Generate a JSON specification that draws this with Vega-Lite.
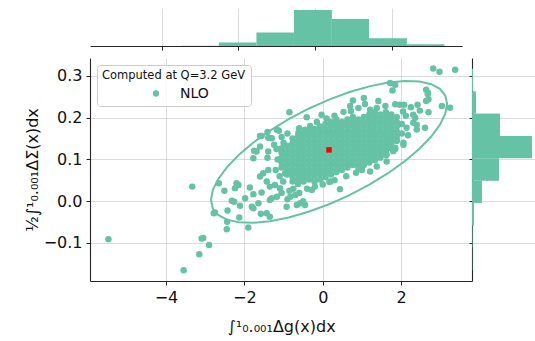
{
"$schema": "https://vega.github.io/schema/vega-lite/v6.json",
"autosize": {"type": "none"},
"padding": {"left": 90, "top": 8, "right": 445, "bottom": 333},
"config": {
 "font": "DejaVu Sans",
 "view": {"stroke": null},
 "axis": {"gridColor": "#b0b0b0", "gridOpacity": 0.45, "domainColor": "#262626", "tickColor": "#262626", "labelColor": "#111111", "titleColor": "#111111", "labelFontSize": 16, "titleFontSize": 16, "titleFontWeight": "normal", "tickSize": 4, "labelPadding": 4, "zindex": 1, "domainWidth": 1.1}
},
"datasets": {
 "pts": [
{"x":-1.05,"y":0.081},{"x":-1.05,"y":0.093},{"x":-1.05,"y":0.104},{"x":-1.05,"y":0.116},{"x":-1.05,"y":0.127},
{"x":-0.91,"y":0.064},{"x":-0.91,"y":0.075},{"x":-0.91,"y":0.087},{"x":-0.91,"y":0.098},{"x":-0.91,"y":0.110},{"x":-0.91,"y":0.121},{"x":-0.91,"y":0.133},
{"x":-0.77,"y":0.047},{"x":-0.77,"y":0.058},{"x":-0.77,"y":0.070},{"x":-0.77,"y":0.081},{"x":-0.77,"y":0.093},{"x":-0.77,"y":0.104},{"x":-0.77,"y":0.116},{"x":-0.77,"y":0.127},{"x":-0.77,"y":0.139},{"x":-0.77,"y":0.150},
{"x":-0.63,"y":0.041},{"x":-0.63,"y":0.052},{"x":-0.63,"y":0.064},{"x":-0.63,"y":0.075},{"x":-0.63,"y":0.087},{"x":-0.63,"y":0.098},{"x":-0.63,"y":0.110},{"x":-0.63,"y":0.121},{"x":-0.63,"y":0.133},{"x":-0.63,"y":0.144},{"x":-0.63,"y":0.156},
{"x":-0.49,"y":0.047},{"x":-0.49,"y":0.058},{"x":-0.49,"y":0.070},{"x":-0.49,"y":0.081},{"x":-0.49,"y":0.093},{"x":-0.49,"y":0.104},{"x":-0.49,"y":0.116},{"x":-0.49,"y":0.127},{"x":-0.49,"y":0.139},{"x":-0.49,"y":0.150},{"x":-0.49,"y":0.162},
{"x":-0.35,"y":0.052},{"x":-0.35,"y":0.064},{"x":-0.35,"y":0.075},{"x":-0.35,"y":0.087},{"x":-0.35,"y":0.098},{"x":-0.35,"y":0.110},{"x":-0.35,"y":0.121},{"x":-0.35,"y":0.133},{"x":-0.35,"y":0.144},{"x":-0.35,"y":0.156},{"x":-0.35,"y":0.167},
{"x":-0.21,"y":0.047},{"x":-0.21,"y":0.058},{"x":-0.21,"y":0.070},{"x":-0.21,"y":0.081},{"x":-0.21,"y":0.093},{"x":-0.21,"y":0.104},{"x":-0.21,"y":0.116},{"x":-0.21,"y":0.127},{"x":-0.21,"y":0.139},{"x":-0.21,"y":0.150},{"x":-0.21,"y":0.162},{"x":-0.21,"y":0.173},
{"x":-0.07,"y":0.052},{"x":-0.07,"y":0.064},{"x":-0.07,"y":0.075},{"x":-0.07,"y":0.087},{"x":-0.07,"y":0.098},{"x":-0.07,"y":0.110},{"x":-0.07,"y":0.121},{"x":-0.07,"y":0.133},{"x":-0.07,"y":0.144},{"x":-0.07,"y":0.156},{"x":-0.07,"y":0.167},{"x":-0.07,"y":0.179},
{"x":0.07,"y":0.058},{"x":0.07,"y":0.070},{"x":0.07,"y":0.081},{"x":0.07,"y":0.093},{"x":0.07,"y":0.104},{"x":0.07,"y":0.116},{"x":0.07,"y":0.127},{"x":0.07,"y":0.139},{"x":0.07,"y":0.150},{"x":0.07,"y":0.162},{"x":0.07,"y":0.173},{"x":0.07,"y":0.185},
{"x":0.21,"y":0.064},{"x":0.21,"y":0.075},{"x":0.21,"y":0.087},{"x":0.21,"y":0.098},{"x":0.21,"y":0.110},{"x":0.21,"y":0.121},{"x":0.21,"y":0.133},{"x":0.21,"y":0.144},{"x":0.21,"y":0.156},{"x":0.21,"y":0.167},{"x":0.21,"y":0.179},{"x":0.21,"y":0.190},
{"x":0.35,"y":0.070},{"x":0.35,"y":0.081},{"x":0.35,"y":0.093},{"x":0.35,"y":0.104},{"x":0.35,"y":0.116},{"x":0.35,"y":0.127},{"x":0.35,"y":0.139},{"x":0.35,"y":0.150},{"x":0.35,"y":0.162},{"x":0.35,"y":0.173},{"x":0.35,"y":0.185},{"x":0.35,"y":0.196},
{"x":0.49,"y":0.075},{"x":0.49,"y":0.087},{"x":0.49,"y":0.098},{"x":0.49,"y":0.110},{"x":0.49,"y":0.121},{"x":0.49,"y":0.133},{"x":0.49,"y":0.144},{"x":0.49,"y":0.156},{"x":0.49,"y":0.167},{"x":0.49,"y":0.179},{"x":0.49,"y":0.190},
{"x":0.63,"y":0.081},{"x":0.63,"y":0.093},{"x":0.63,"y":0.104},{"x":0.63,"y":0.116},{"x":0.63,"y":0.127},{"x":0.63,"y":0.139},{"x":0.63,"y":0.150},{"x":0.63,"y":0.162},{"x":0.63,"y":0.173},{"x":0.63,"y":0.185},{"x":0.63,"y":0.196},
{"x":0.77,"y":0.087},{"x":0.77,"y":0.098},{"x":0.77,"y":0.110},{"x":0.77,"y":0.121},{"x":0.77,"y":0.133},{"x":0.77,"y":0.144},{"x":0.77,"y":0.156},{"x":0.77,"y":0.167},{"x":0.77,"y":0.179},{"x":0.77,"y":0.190},{"x":0.77,"y":0.202},
{"x":0.91,"y":0.081},{"x":0.91,"y":0.093},{"x":0.91,"y":0.104},{"x":0.91,"y":0.116},{"x":0.91,"y":0.127},{"x":0.91,"y":0.139},{"x":0.91,"y":0.150},{"x":0.91,"y":0.162},{"x":0.91,"y":0.173},{"x":0.91,"y":0.185},{"x":0.91,"y":0.196},
{"x":1.05,"y":0.087},{"x":1.05,"y":0.098},{"x":1.05,"y":0.110},{"x":1.05,"y":0.121},{"x":1.05,"y":0.133},{"x":1.05,"y":0.144},{"x":1.05,"y":0.156},{"x":1.05,"y":0.167},{"x":1.05,"y":0.179},{"x":1.05,"y":0.190},{"x":1.05,"y":0.202},
{"x":1.19,"y":0.093},{"x":1.19,"y":0.104},{"x":1.19,"y":0.116},{"x":1.19,"y":0.127},{"x":1.19,"y":0.139},{"x":1.19,"y":0.150},{"x":1.19,"y":0.162},{"x":1.19,"y":0.173},{"x":1.19,"y":0.185},{"x":1.19,"y":0.196},{"x":1.19,"y":0.208},
{"x":1.33,"y":0.098},{"x":1.33,"y":0.110},{"x":1.33,"y":0.121},{"x":1.33,"y":0.133},{"x":1.33,"y":0.144},{"x":1.33,"y":0.156},{"x":1.33,"y":0.167},{"x":1.33,"y":0.179},{"x":1.33,"y":0.190},{"x":1.33,"y":0.202},{"x":1.33,"y":0.213},
{"x":1.47,"y":0.104},{"x":1.47,"y":0.116},{"x":1.47,"y":0.127},{"x":1.47,"y":0.139},{"x":1.47,"y":0.150},{"x":1.47,"y":0.162},{"x":1.47,"y":0.173},{"x":1.47,"y":0.185},{"x":1.47,"y":0.196},{"x":1.47,"y":0.208},
{"x":1.61,"y":0.110},{"x":1.61,"y":0.121},{"x":1.61,"y":0.133},{"x":1.61,"y":0.144},{"x":1.61,"y":0.156},{"x":1.61,"y":0.167},{"x":1.61,"y":0.179},{"x":1.61,"y":0.190},{"x":1.61,"y":0.202},{"x":1.61,"y":0.213},
{"x":1.75,"y":0.127},{"x":1.75,"y":0.139},{"x":1.75,"y":0.150},{"x":1.75,"y":0.162},{"x":1.75,"y":0.173},{"x":1.75,"y":0.185},{"x":1.75,"y":0.196},{"x":1.75,"y":0.208},
{"x":1.89,"y":0.144},{"x":1.89,"y":0.156},{"x":1.89,"y":0.167},{"x":1.89,"y":0.179},{"x":1.89,"y":0.190},{"x":1.89,"y":0.202},
{"x":2.02,"y":0.162},{"x":2.02,"y":0.185},
{"x":-1.15,"y":0.100},{"x":-1.20,"y":0.075},{"x":-1.18,"y":0.125},{"x":-1.10,"y":0.060},{"x":-1.00,"y":0.140},
{"x":-5.47,"y":-0.091},{"x":-3.33,"y":0.035},{"x":-3.09,"y":-0.089},{"x":-3.05,"y":-0.088},{"x":-2.90,"y":-0.105},{"x":-3.15,"y":-0.127},{"x":-3.55,"y":-0.165},{"x":-2.78,"y":-0.029},
{"x":-2.45,"y":-0.067},{"x":-1.90,"y":-0.063},{"x":-2.44,"y":-0.049},{"x":-2.75,"y":-0.027},{"x":-2.43,"y":-0.022},{"x":-2.13,"y":-0.039},{"x":-2.11,"y":-0.011},{"x":-2.32,"y":0.001},{"x":-2.26,"y":-0.001},
{"x":-2.51,"y":0.025},{"x":-2.65,"y":0.043},{"x":-2.20,"y":0.043},{"x":-1.98,"y":0.007},{"x":-1.86,"y":0.033},{"x":-1.77,"y":0.017},{"x":-1.81,"y":-0.013},{"x":-1.77,"y":-0.017},{"x":-1.58,"y":-0.030},{"x":-1.43,"y":-0.029},
{"x":-1.56,"y":0.021},{"x":-1.60,"y":0.059},{"x":-1.52,"y":0.067},{"x":-1.39,"y":0.075},{"x":-1.43,"y":0.047},{"x":-1.35,"y":0.035},{"x":-1.22,"y":0.039},{"x":-1.64,"y":-0.005},{"x":-1.35,"y":0.003},{"x":-1.17,"y":0.011},
{"x":-1.77,"y":0.103},{"x":-1.69,"y":0.119},{"x":-1.24,"y":0.135},{"x":-1.35,"y":-0.037},{"x":-0.92,"y":-0.013},{"x":-0.66,"y":-0.009},{"x":-0.58,"y":-0.005},{"x":-1.09,"y":0.031},{"x":-1.01,"y":0.047},{"x":-0.96,"y":0.067},
{"x":-2.24,"y":0.031},{"x":-2.15,"y":0.039},{"x":-1.56,"y":0.156},{"x":-1.30,"y":0.151},{"x":-1.12,"y":0.169},{"x":-1.60,"y":0.131},{"x":-1.39,"y":0.119},{"x":-1.60,"y":0.156},{"x":-1.41,"y":0.166},{"x":-1.39,"y":0.152},
{"x":-1.75,"y":0.121},{"x":-1.41,"y":0.104},{"x":-1.17,"y":0.171},{"x":-1.30,"y":0.007},{"x":-0.83,"y":0.011},
{"x":-1.05,"y":0.154},{"x":-0.85,"y":0.213},{"x":-0.62,"y":0.164},{"x":-0.45,"y":0.171},{"x":-0.32,"y":0.180},{"x":-0.58,"y":0.152},{"x":-0.24,"y":0.160},{"x":-0.41,"y":0.201},{"x":-0.03,"y":0.207},
{"x":0.53,"y":0.214},{"x":0.70,"y":0.228},{"x":0.72,"y":0.216},{"x":0.77,"y":0.241},{"x":0.91,"y":0.223},{"x":1.08,"y":0.233},{"x":1.05,"y":0.247},{"x":1.21,"y":0.219},{"x":1.38,"y":0.223},{"x":1.42,"y":0.240},
{"x":0.17,"y":0.046},{"x":0.44,"y":0.029},{"x":0.19,"y":0.047},{"x":-0.28,"y":0.027},{"x":-0.45,"y":-0.009},{"x":-0.50,"y":0.0},{"x":1.21,"y":0.071},{"x":1.38,"y":0.083},{"x":1.63,"y":0.095},{"x":1.85,"y":0.125},{"x":2.06,"y":0.135},
{"x":2.82,"y":0.318},{"x":2.98,"y":0.310},{"x":3.38,"y":0.315},{"x":1.72,"y":0.283},{"x":1.85,"y":0.279},{"x":1.78,"y":0.265},{"x":2.64,"y":0.267},{"x":2.68,"y":0.257},{"x":2.69,"y":0.259},{"x":2.64,"y":0.240},
{"x":2.42,"y":0.231},{"x":2.25,"y":0.225},{"x":2.08,"y":0.231},{"x":1.97,"y":0.231},{"x":2.48,"y":0.217},{"x":2.70,"y":0.213},{"x":3.04,"y":0.228},{"x":3.25,"y":0.224},{"x":2.31,"y":0.207},{"x":2.36,"y":0.200},
{"x":2.40,"y":0.172},{"x":2.61,"y":0.176},{"x":2.14,"y":0.176},{"x":2.31,"y":0.188},{"x":2.06,"y":0.140},{"x":1.85,"y":0.128},{"x":1.80,"y":0.120},{"x":1.63,"y":0.112},{"x":2.70,"y":0.244},{"x":2.40,"y":0.183},
{"x":1.89,"y":0.147},{"x":1.63,"y":0.127},{"x":2.12,"y":0.205},{"x":2.05,"y":0.215},{"x":2.18,"y":0.158},
{"x":-1.05,"y":0.020},{"x":-0.85,"y":0.025},{"x":-0.75,"y":0.030},{"x":-0.70,"y":0.015},{"x":-0.60,"y":0.020},{"x":-0.40,"y":0.030},{"x":-0.20,"y":0.035},{"x":0.0,"y":0.040},{"x":0.30,"y":0.050},{"x":0.60,"y":0.060},
{"x":0.85,"y":0.068},{"x":1.00,"y":0.075},{"x":-0.90,"y":0.005},
{"x":0.30,"y":0.205},{"x":0.10,"y":0.198},{"x":1.60,"y":0.228},{"x":1.85,"y":0.232},{"x":-0.15,"y":0.190},{"x":-0.60,"y":0.175},{"x":-0.90,"y":0.162}
 ],
 "ell": [
{"i":0,"x":3.174,"y":0.2331},{"i":1,"x":3.128,"y":0.2096},{"i":2,"x":2.992,"y":0.1833},{"i":3,"x":2.770,"y":0.1550},{"i":4,"x":2.469,"y":0.1257},{"i":5,"x":2.097,"y":0.0960},
{"i":6,"x":1.667,"y":0.0671},{"i":7,"x":1.191,"y":0.0397},{"i":8,"x":0.684,"y":0.0147},{"i":9,"x":0.161,"y":-0.0072},{"i":10,"x":-0.362,"y":-0.0252},{"i":11,"x":-0.869,"y":-0.0389},
{"i":12,"x":-1.345,"y":-0.0479},{"i":13,"x":-1.775,"y":-0.0518},{"i":14,"x":-2.147,"y":-0.0505},{"i":15,"x":-2.448,"y":-0.0441},{"i":16,"x":-2.670,"y":-0.0328},{"i":17,"x":-2.806,"y":-0.0169},
{"i":18,"x":-2.852,"y":0.0031},{"i":19,"x":-2.806,"y":0.0266},{"i":20,"x":-2.670,"y":0.0529},{"i":21,"x":-2.448,"y":0.0812},{"i":22,"x":-2.147,"y":0.1106},{"i":23,"x":-1.775,"y":0.1402},
{"i":24,"x":-1.345,"y":0.1691},{"i":25,"x":-0.869,"y":0.1965},{"i":26,"x":-0.362,"y":0.2215},{"i":27,"x":0.161,"y":0.2434},{"i":28,"x":0.684,"y":0.2614},{"i":29,"x":1.191,"y":0.2751},
{"i":30,"x":1.667,"y":0.2841},{"i":31,"x":2.097,"y":0.2880},{"i":32,"x":2.469,"y":0.2867},{"i":33,"x":2.770,"y":0.2803},{"i":34,"x":2.992,"y":0.2690},{"i":35,"x":3.128,"y":0.2531}
 ],
 "mean": [{"x":0.16,"y":0.123}],
 "hx": [
{"a":-5.45,"b":-4.47,"c":1},{"a":-4.47,"b":-3.49,"c":1},{"a":-3.49,"b":-2.51,"c":3},{"a":-2.51,"b":-1.53,"c":38},{"a":-1.53,"b":-0.55,"c":151},
{"a":-0.55,"b":0.44,"c":404},{"a":0.44,"b":1.41,"c":302},{"a":1.41,"b":2.40,"c":87},{"a":2.40,"b":3.38,"c":19}
 ],
 "hy": [
{"a":-0.165,"b":-0.111,"c":2},{"a":-0.111,"b":-0.058,"c":4},{"a":-0.058,"b":-0.004,"c":15},{"a":-0.004,"b":0.049,"c":76},{"a":0.049,"b":0.103,"c":206},
{"a":0.103,"b":0.156,"c":458},{"a":0.156,"b":0.210,"c":214},{"a":0.210,"b":0.263,"c":31},{"a":0.263,"b":0.317,"c":8}
 ]
},
"vconcat": [
 {
  "width": 372, "height": 38,
  "data": {"name": "hx"},
  "mark": {"type": "rect", "color": "#66c2a5"},
  "encoding": {
   "x": {"field": "a", "type": "quantitative", "scale": {"domain": [-5.875, 3.838], "nice": false, "zero": false}, "axis": {"values": [-4, -2, 0, 2], "labels": false, "title": null, "grid": true}},
   "x2": {"field": "b"},
   "y": {"field": "c", "type": "quantitative", "scale": {"domain": [0, 426], "nice": false}, "axis": null},
   "y2": {"datum": 0}
  }
 },
 {
  "hconcat": [
   {
    "width": 382, "height": 223,
    "layer": [
     {
      "data": {"name": "pts"},
      "mark": {"type": "point", "filled": true, "size": 42, "opacity": 1},
      "encoding": {
       "x": {"field": "x", "type": "quantitative", "scale": {"domain": [-5.94, 3.81], "nice": false, "zero": false}, "axis": {"values": [-4, -2, 0, 2], "format": "d", "title": "∫¹₀.₀₀₁Δg(x)dx", "titleY": 50, "titleBaseline": "alphabetic", "grid": true}},
       "y": {"field": "y", "type": "quantitative", "scale": {"domain": [-0.191, 0.343], "nice": false, "zero": false}, "axis": {"values": [-0.1, 0, 0.1, 0.2, 0.3], "format": ".1f", "title": "½∫¹₀.₀₀₁ΔΣ(x)dx", "titleX": -53, "titleBaseline": "alphabetic", "grid": true}},
       "color": {"datum": "NLO", "scale": {"range": ["#66c2a5"]}, "legend": {"title": "Computed at Q=3.2 GeV", "orient": "none", "legendX": 7, "legendY": 7, "titleFontSize": 11.5, "titleFontWeight": "normal", "titleColor": "#111111", "labelFontSize": 14, "labelColor": "#111111", "symbolSize": 40, "symbolType": "circle", "symbolOffset": 47, "labelOffset": 17, "padding": 5, "strokeColor": "#cccccc", "fillColor": "rgba(255,255,255,0.85)", "cornerRadius": 3, "titlePadding": 5, "symbolStrokeWidth": 0}}
      }
     },
     {
      "data": {"name": "ell"},
      "mark": {"type": "line", "interpolate": "linear-closed", "strokeWidth": 2, "color": "#66c2a5"},
      "encoding": {
       "x": {"field": "x", "type": "quantitative"},
       "y": {"field": "y", "type": "quantitative"},
       "order": {"field": "i"}
      }
     },
     {
      "data": {"name": "mean"},
      "mark": {"type": "square", "size": 30, "color": "#ff0000", "opacity": 1},
      "encoding": {
       "x": {"field": "x", "type": "quantitative"},
       "y": {"field": "y", "type": "quantitative"}
      }
     }
    ]
   },
   {
    "width": 63, "height": 223,
    "data": {"name": "hy"},
    "mark": {"type": "rect", "color": "#66c2a5"},
    "encoding": {
     "y": {"field": "a", "type": "quantitative", "scale": {"domain": [-0.191, 0.343], "nice": false, "zero": false}, "axis": {"values": [-0.1, 0, 0.1, 0.2, 0.3], "labels": false, "title": null, "grid": true, "tickSize": 3}},
     "y2": {"field": "b"},
     "x": {"field": "c", "type": "quantitative", "scale": {"domain": [0, 481], "nice": false}, "axis": null},
     "x2": {"datum": 0}
    }
   }
  ],
  "spacing": 0,
  "bounds": "flush",
  "resolve": {"scale": {"color": "independent"}, "legend": {"color": "independent"}}
 }
],
"spacing": 12,
"bounds": "flush",
"resolve": {"scale": {"color": "independent"}, "legend": {"color": "independent"}}
}
